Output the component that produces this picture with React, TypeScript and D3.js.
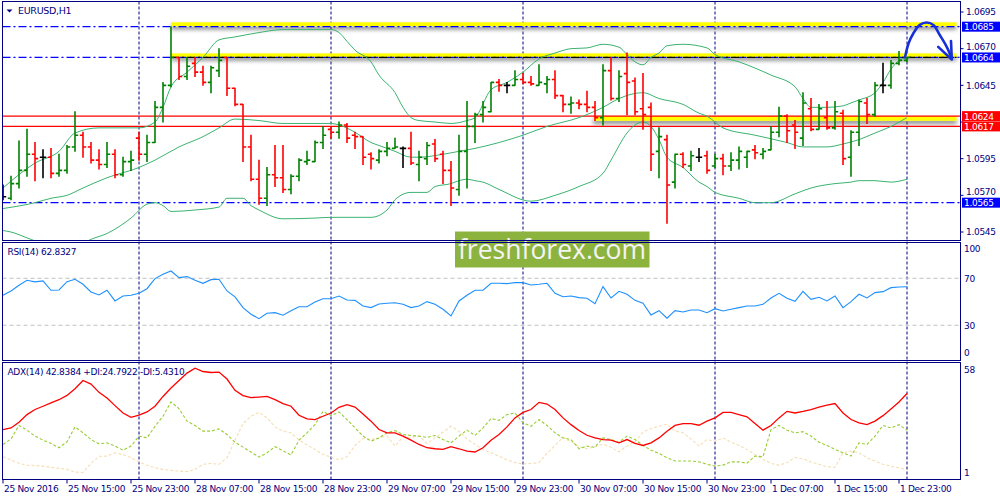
import * as d3 from "d3";

// EURUSD H1, 25 Nov 2016 07:00 .. 2 Dec 2016 00:00 (bar index 0..113)
// [open, high, low, close]
const bars: number[][] = [
  [1.0569, 1.0577, 1.0567, 1.0569], [1.0568, 1.0583, 1.0567, 1.0578], [1.0578, 1.0607, 1.0575, 1.0587],
  [1.0587, 1.0615, 1.0583, 1.0598], [1.0598, 1.0606, 1.058, 1.0595], [1.0596, 1.0601, 1.0582, 1.0596],
  [1.0596, 1.0602, 1.0582, 1.0585], [1.0585, 1.0598, 1.0583, 1.0587], [1.0587, 1.0604, 1.0585, 1.0603],
  [1.0603, 1.0627, 1.06, 1.0611], [1.0611, 1.0613, 1.0596, 1.0603], [1.0603, 1.0606, 1.0592, 1.0594],
  [1.0594, 1.0601, 1.0588, 1.0591], [1.0591, 1.0606, 1.0589, 1.0598], [1.0598, 1.0601, 1.0582, 1.0584],
  [1.0584, 1.0596, 1.0583, 1.0593], [1.0593, 1.06, 1.0587, 1.0594], [1.0609, 1.0613, 1.0594, 1.0598],
  [1.0598, 1.0611, 1.0593, 1.0606], [1.0606, 1.0634, 1.0606, 1.063], [1.063, 1.0647, 1.062, 1.0645],
  [1.0645, 1.0685, 1.0644, 1.0664], [1.0664, 1.0664, 1.0649, 1.0651], [1.0651, 1.0664, 1.0649, 1.0658],
  [1.066, 1.0664, 1.0651, 1.0654], [1.0654, 1.0658, 1.0645, 1.0647], [1.0647, 1.0658, 1.064, 1.0657],
  [1.0655, 1.067, 1.0651, 1.0662], [1.0664, 1.0664, 1.0638, 1.0643], [1.0643, 1.0643, 1.0631, 1.0632],
  [1.0632, 1.0632, 1.0593, 1.0603], [1.0603, 1.0611, 1.058, 1.0581], [1.0581, 1.0594, 1.0564, 1.0568],
  [1.0568, 1.0589, 1.0563, 1.0584], [1.0584, 1.0604, 1.0576, 1.0582], [1.0582, 1.0604, 1.0572, 1.0574],
  [1.0574, 1.0584, 1.0571, 1.0583], [1.0583, 1.0595, 1.058, 1.0594], [1.0593, 1.06, 1.0591, 1.0594],
  [1.0593, 1.0607, 1.0593, 1.0606], [1.0606, 1.0617, 1.0602, 1.0611], [1.0615, 1.0617, 1.0609, 1.0613],
  [1.0613, 1.062, 1.0609, 1.0618], [1.0618, 1.0619, 1.0606, 1.0609], [1.0611, 1.0613, 1.0602, 1.061],
  [1.061, 1.061, 1.0591, 1.0596], [1.0598, 1.0599, 1.0588, 1.0595], [1.0594, 1.0601, 1.0592, 1.06],
  [1.06, 1.0606, 1.0597, 1.0602], [1.0602, 1.0609, 1.0602, 1.0603], [1.0602, 1.0603, 1.0589, 1.0602],
  [1.0602, 1.0613, 1.0591, 1.0592], [1.0591, 1.06, 1.058, 1.0596], [1.0595, 1.0606, 1.0591, 1.0604],
  [1.0605, 1.0608, 1.0593, 1.0595], [1.0598, 1.06, 1.0578, 1.0587], [1.0587, 1.0593, 1.0563, 1.0575],
  [1.0574, 1.0611, 1.057, 1.06], [1.06, 1.0634, 1.0575, 1.0617], [1.0617, 1.0626, 1.0606, 1.0625],
  [1.0625, 1.0634, 1.062, 1.063], [1.0627, 1.0647, 1.0627, 1.0647], [1.0647, 1.0649, 1.0641, 1.0645],
  [1.0645, 1.0647, 1.064, 1.0645], [1.0645, 1.0655, 1.0645, 1.0649], [1.0649, 1.0653, 1.0646, 1.0647],
  [1.0647, 1.0651, 1.0645, 1.0646], [1.0645, 1.0659, 1.0645, 1.0647], [1.0646, 1.0651, 1.064, 1.0649],
  [1.0649, 1.0655, 1.0636, 1.0638], [1.0638, 1.0638, 1.0627, 1.0632], [1.0632, 1.0637, 1.0626, 1.0633],
  [1.0633, 1.0635, 1.0629, 1.0632], [1.0632, 1.0641, 1.0627, 1.063], [1.063, 1.0634, 1.0621, 1.0623],
  [1.0623, 1.0659, 1.0618, 1.0655], [1.0655, 1.0664, 1.0635, 1.0636], [1.0636, 1.0655, 1.0634, 1.0651],
  [1.0653, 1.0667, 1.0625, 1.0647], [1.0648, 1.065, 1.0625, 1.0627], [1.0629, 1.0653, 1.0615, 1.0625],
  [1.063, 1.0633, 1.0587, 1.0598], [1.06, 1.0616, 1.0582, 1.061], [1.0608, 1.0611, 1.0551, 1.0577],
  [1.0579, 1.0598, 1.0575, 1.0598], [1.0598, 1.0599, 1.0589, 1.0591], [1.059, 1.06, 1.0587, 1.0597],
  [1.0596, 1.0602, 1.0593, 1.0596], [1.0597, 1.06, 1.0585, 1.0587], [1.059, 1.0598, 1.0589, 1.0595],
  [1.0595, 1.0598, 1.0584, 1.059], [1.059, 1.0599, 1.0587, 1.0594], [1.0594, 1.0603, 1.0588, 1.06],
  [1.0596, 1.06, 1.0589, 1.06], [1.0601, 1.0604, 1.0595, 1.0599], [1.0598, 1.0602, 1.0595, 1.06],
  [1.0601, 1.0617, 1.0601, 1.0613], [1.0613, 1.063, 1.061, 1.0624], [1.0624, 1.0625, 1.0606, 1.0614],
  [1.0618, 1.0621, 1.0602, 1.0613], [1.0609, 1.064, 1.0604, 1.0633], [1.0629, 1.0636, 1.0614, 1.0615],
  [1.0615, 1.0632, 1.0615, 1.0629], [1.0623, 1.0634, 1.0615, 1.0616], [1.0616, 1.0634, 1.0615, 1.0627],
  [1.0626, 1.0628, 1.0591, 1.0595], [1.0596, 1.0614, 1.0583, 1.0613], [1.0613, 1.0635, 1.0604, 1.0634],
  [1.0633, 1.0636, 1.0619, 1.0625], [1.0625, 1.0647, 1.0624, 1.0645], [1.0645, 1.066, 1.064, 1.0645],
  [1.0645, 1.0662, 1.0643, 1.066], [1.066, 1.0668, 1.0659, 1.0662], [1.0662, 1.0664, 1.0661, 1.0664],
];

// Bollinger bands (20), read as [bar, price] vertices
const bbUpper = [
  [0, 1.0575], [4, 1.0592], [7, 1.06], [9, 1.06125], [12, 1.0616], [17, 1.0616], [19, 1.062], [20, 1.063],
  [21, 1.0644], [23, 1.0654], [25, 1.0664], [27, 1.0676], [29, 1.0678], [32, 1.0681], [35, 1.0683], [41, 1.0683],
  [42, 1.0681], [43, 1.0675], [44, 1.0669], [46, 1.0661], [47, 1.0652], [49, 1.064], [50, 1.063], [51, 1.0623],
  [52, 1.0621], [54, 1.062], [56, 1.0619], [58, 1.0621], [59, 1.0623], [61, 1.0642], [63, 1.0647], [65, 1.0654],
  [67, 1.0663], [69, 1.0667], [71, 1.067], [73, 1.06705], [75, 1.0673], [77, 1.0671], [78, 1.0666], [79, 1.0661],
  [80, 1.0659], [81, 1.0664], [82, 1.0667], [83, 1.0672], [85, 1.0673], [88, 1.06705], [89, 1.0666], [92, 1.0661],
  [96, 1.0652], [99, 1.0644], [100, 1.0636], [101, 1.063], [103, 1.063], [105, 1.0631], [106, 1.0633], [107, 1.0635],
  [109, 1.064], [110, 1.0647], [111, 1.0656], [112, 1.0662], [113, 1.0664],
];
const bbMiddle = [
  [0, 1.0561], [4, 1.0565], [6, 1.0568], [8, 1.057], [10, 1.0575], [13, 1.0582], [17, 1.0589], [19, 1.0594],
  [22, 1.0603], [25, 1.061], [27, 1.0616], [29, 1.0622], [32, 1.0621], [35, 1.0619], [41, 1.0619], [42, 1.0618],
  [44, 1.0613], [46, 1.0606], [47, 1.0604], [49, 1.06], [51, 1.0596], [52, 1.0596], [55, 1.0598], [57, 1.06],
  [59, 1.0602], [62, 1.0606], [65, 1.0611], [68, 1.0617], [72, 1.0623], [75, 1.063], [77, 1.0636], [80, 1.064],
  [82, 1.0636], [85, 1.0632], [87, 1.0626], [88, 1.0624], [90, 1.0616], [94, 1.0611], [98, 1.0606], [100, 1.0603],
  [103, 1.0603], [105, 1.0605], [107, 1.0608], [109, 1.06125], [111, 1.0617], [113, 1.0623],
];
const bbLower = [
  [0, 1.0546], [1, 1.0545], [3, 1.0541], [4, 1.0539], [6, 1.05375], [8, 1.0536], [10, 1.05375], [11, 1.054],
  [13, 1.0544], [16, 1.05545], [18, 1.0564], [19, 1.0565], [20, 1.0563], [21, 1.0559], [24, 1.056], [27, 1.0562],
  [28, 1.0568], [30, 1.0568], [31, 1.0563], [32, 1.056], [35, 1.0554], [39, 1.05545], [41, 1.0555], [46, 1.0555],
  [48, 1.056], [49, 1.0567], [51, 1.0572], [53, 1.0572], [54, 1.0576], [56, 1.0578], [57, 1.058], [58, 1.0581],
  [59, 1.058], [60, 1.0579], [62, 1.0574], [66, 1.0566], [69, 1.057], [72, 1.0576], [75, 1.0585], [76, 1.0594],
  [78, 1.06125], [79, 1.0618], [80, 1.062], [81, 1.0617], [82, 1.0608], [83, 1.0596], [85, 1.0589], [87, 1.0579],
  [88, 1.0576], [89, 1.0572], [92, 1.0568], [94, 1.0565], [96, 1.0565], [99, 1.0571], [101, 1.0575], [104, 1.0578],
  [106, 1.0579], [107, 1.058], [109, 1.058], [111, 1.0579], [113, 1.0581],
];

const rsi = [
  55.5, 59.2, 64.0, 68.3, 66.9, 67.7, 59.8, 60.0, 67.1, 69.1,
  64.9, 58.3, 55.8, 59.8, 50.7, 54.9, 55.5, 57.2, 61.1, 69.7,
  73.4, 76.2, 70.5, 71.4, 68.3, 65.7, 68.8, 69.1, 59.2, 54.1,
  45.0, 39.4, 35.6, 40.2, 40.7, 38.5, 42.4, 45.8, 45.8, 49.8,
  52.6, 52.6, 54.9, 51.5, 51.2, 46.4, 45.0, 48.1, 48.7, 49.2,
  47.8, 45.0, 46.4, 50.1, 47.8, 43.6, 37.9, 50.7, 55.5, 59.8,
  59.8, 65.7, 65.8, 65.4, 66.3, 66.3, 64.3, 64.9, 65.7, 57.2,
  54.3, 54.9, 53.5, 53.0, 48.4, 62.9, 53.2, 58.9, 56.4, 51.2,
  48.7, 38.8, 42.4, 36.0, 42.4, 41.3, 43.0, 43.0, 40.7, 44.1,
  42.2, 43.6, 45.0, 46.4, 46.4, 47.8, 53.2, 57.2, 53.0, 50.4,
  58.9, 52.1, 53.8, 50.7, 54.9, 45.0, 50.1, 56.4, 53.2, 57.8,
  58.6, 62.0, 62.6, 62.83,
];

const adx = [
  25.2, 26.0, 28.8, 32.5, 35.0, 36.6, 38.2, 39.8, 41.9, 45.2,
  49.2, 47.4, 43.4, 40.6, 36.9, 33.3, 31.2, 32.3, 33.8, 36.6,
  41.4, 45.5, 49.2, 52.8, 55.2, 53.6, 53.1, 53.3, 49.9, 44.4,
  41.8, 40.8, 41.1, 41.4, 39.8, 37.9, 36.6, 32.2, 30.4, 30.1,
  31.7, 33.3, 36.1, 37.4, 36.2, 32.8, 29.3, 25.2, 23.6, 23.6,
  22.0, 20.0, 17.9, 16.3, 15.8, 15.5, 16.8, 15.8, 14.6, 14.2,
  16.3, 20.0, 22.8, 26.5, 30.9, 33.6, 35.0, 38.5, 37.7, 35.0,
  30.9, 27.6, 24.7, 22.4, 21.1, 20.3, 20.0, 18.7, 20.3, 18.4,
  17.4, 18.7, 21.1, 24.4, 27.2, 28.1, 28.1, 27.3, 29.3, 30.9,
  33.6, 33.6, 32.5, 31.4, 28.1, 24.9, 27.2, 30.9, 34.1, 33.3,
  34.1, 35.0, 36.2, 37.1, 37.9, 33.3, 30.1, 28.5, 27.6, 29.3,
  32.0, 35.3, 38.7, 42.84,
];
const plusDi = [
  17.9, 20.6, 27.2, 24.9, 22.0, 20.0, 18.4, 16.3, 19.2, 26.5,
  23.6, 20.3, 18.2, 18.7, 17.1, 15.1, 17.1, 22.0, 21.1, 26.8,
  31.7, 38.7, 35.4, 29.3, 27.2, 24.4, 24.4, 25.5, 22.8, 19.0,
  16.6, 14.2, 11.7, 13.8, 16.8, 14.8, 12.8, 20.0, 23.6, 27.6,
  34.1, 32.0, 33.8, 30.1, 26.0, 22.0, 19.5, 21.1, 23.6, 24.7,
  22.8, 22.3, 22.0, 21.3, 22.3, 20.3, 18.7, 22.0, 24.9, 22.3,
  26.0, 30.6, 29.7, 32.5, 33.3, 28.5, 26.8, 30.1, 27.2, 23.6,
  21.1, 20.3, 15.8, 17.1, 16.5, 21.1, 20.3, 19.0, 22.0, 20.3,
  17.4, 15.1, 13.5, 11.4, 9.8, 9.8, 9.8, 9.4, 8.2, 7.3,
  7.8, 9.4, 9.4, 8.7, 12.2, 11.9, 25.2, 27.2, 24.9, 23.6,
  24.2, 22.0, 19.0, 17.4, 15.5, 13.8, 12.2, 18.7, 17.9, 22.0,
  27.2, 26.0, 27.6, 24.79,
];
const minusDi = [
  11.9, 10.3, 8.7, 7.7, 7.6, 7.3, 6.7, 6.2, 5.7, 4.4,
  4.2, 8.7, 12.1, 12.2, 13.8, 13.0, 11.4, 9.3, 7.7, 6.5,
  5.7, 5.2, 4.9, 4.6, 5.7, 8.2, 8.6, 8.2, 11.4, 20.0,
  28.1, 31.7, 33.6, 30.9, 26.5, 24.4, 23.6, 20.0, 17.6, 15.5,
  13.0, 11.7, 10.4, 11.9, 17.4, 20.8, 20.3, 21.1, 22.0, 17.1,
  21.6, 21.3, 22.0, 18.4, 21.1, 23.9, 26.8, 24.4, 20.6, 17.9,
  15.5, 13.8, 12.2, 10.3, 9.0, 8.4, 8.6, 9.0, 13.5, 17.4,
  21.3, 19.2, 16.8, 15.8, 16.8, 18.0, 16.5, 14.3, 17.1, 19.2,
  23.9, 25.7, 26.8, 27.8, 24.4, 23.6, 20.6, 17.1, 20.3, 19.5,
  21.1, 19.0, 17.4, 15.5, 13.0, 10.6, 8.7, 7.7, 9.0, 11.5,
  10.9, 9.3, 8.2, 7.0, 6.7, 13.8, 14.6, 13.8, 11.4, 9.8,
  8.2, 7.3, 6.5, 5.43,
];

const timeLabels = [
  "25 Nov 2016", "25 Nov 15:00", "25 Nov 23:00", "28 Nov 07:00", "28 Nov 15:00", "28 Nov 23:00",
  "29 Nov 07:00", "29 Nov 15:00", "29 Nov 23:00", "30 Nov 07:00", "30 Nov 15:00", "30 Nov 23:00",
  "1 Dec 07:00", "1 Dec 15:00", "1 Dec 23:00",
];
const labelBars = [0, 8, 16, 24, 32, 40, 48, 56, 64, 72, 80, 88, 96, 104, 112];
const daySeparators = [17, 41, 65, 89, 113];

// 1.0620 sits behind the red level boxes, so it only gets a tick
const priceTicks = [1.0695, 1.067, 1.0645, 1.062, 1.0595, 1.057, 1.0545];
const hiddenTicks = [1.062];
const levels = [
  { price: 1.0685, color: "#0000ff", dashed: true },
  { price: 1.0664, color: "#0000ff", dashed: true },
  { price: 1.0624, color: "#ff0000", dashed: false },
  { price: 1.0617, color: "#ff0000", dashed: false },
  { price: 1.0565, color: "#0000ff", dashed: true },
];
// highlighted zones: [fromBar, toBar, lowPrice, highPrice]
const zones = [
  [21, 119.2, 1.06852, 1.0688],
  [21, 119.2, 1.0664, 1.06668],
  [73.75, 119.2, 1.06208, 1.0624],
];
// hand drawn arrow [bar, price]
const arrowPath = [
  [112.75, 1.0664], [113.2, 1.06737], [113.8, 1.06805], [114.6, 1.06862], [115.45, 1.06878],
  [116.3, 1.06862], [117.1, 1.06793], [117.95, 1.06714], [118.6, 1.06634],
];
const arrowHead = [[118.5, 1.06752], [118.6, 1.06626], [116.9, 1.06712]];

const NAVY = "#000080";
const FONT = "DejaVu Sans";
const L = 2.5, R = 960.5;
const mainTop = 1.5, mainBot = 240.5;
const rsiTop = 242.5, rsiBot = 360.5;
const adxTop = 362.5, adxBot = 479.5;

const x = d3.scaleLinear().domain([0, 113]).range([3, 907]);
const y = d3.scaleLinear().domain([1.0545, 1.0695]).range([232, 12]);
const yRsi = d3.scaleLinear().domain([0, 100]).range([360.5, 243]);
const yAdx = d3.scaleLinear().domain([1, 58]).range([479, 362.5]);

const bandLine = d3.line<number[]>().x((d) => x(d[0])).y((d) => y(d[1])).curve(d3.curveMonotoneX);
const rsiLine = d3.line<number>().x((_, i) => x(i)).y((d) => yRsi(d));
const adxLine = d3.line<number>().x((_, i) => x(i)).y((d) => yAdx(d));
const arrowLine = d3.line<number[]>().x((d) => x(d[0])).y((d) => y(d[1])).curve(d3.curveCatmullRom);
const headLine = d3.line<number[]>().x((d) => x(d[0])).y((d) => y(d[1]));

// push an axis label away from a level box that would cover it
const tickLabelY = (p: number) => {
  const ty = y(p);
  for (const lv of levels) {
    const d = ty - y(lv.price);
    if (Math.abs(d) < 11) return ty + Math.sign(d || -1) * (11 - Math.abs(d));
  }
  return ty;
};

const txt = { fontFamily: FONT, fontSize: 9, fill: NAVY, letterSpacing: -0.3 } as const;

export default function App() {
  return (
    <svg width={1000} height={500} style={{ position: "absolute", left: 0, top: 0, background: "#fff" }}>
      <defs>
        <clipPath id="mainClip">
          <rect x={L} y={mainTop} width={R - L} height={mainBot - mainTop} />
        </clipPath>
        <filter id="shadow" x="-5%" y="-150%" width="110%" height="500%">
          <feGaussianBlur in="SourceAlpha" stdDeviation="2" />
          <feOffset dy="3" result="blur" />
          <feFlood floodColor="#5a5a5a" floodOpacity="0.75" />
          <feComposite in2="blur" operator="in" />
          <feMerge>
            <feMergeNode />
            <feMergeNode in="SourceGraphic" />
          </feMerge>
        </filter>
      </defs>

      {/* day separators across all windows */}
      {daySeparators.map((b) => (
        <line key={b} x1={x(b)} x2={x(b)} y1={mainTop} y2={adxBot} stroke={NAVY} strokeDasharray="3,2" strokeWidth={1} />
      ))}

      <g clipPath="url(#mainClip)">
        {zones.map((z, i) => (
          <rect key={i} x={x(z[0])} width={x(z[1]) - x(z[0])} y={y(z[3])} height={y(z[2]) - y(z[3])}
            fill="#ffff00" filter="url(#shadow)" />
        ))}
        {levels.map((lv) => (
          <line key={lv.price} x1={L} x2={R} y1={y(lv.price)} y2={y(lv.price)} stroke={lv.color}
            strokeWidth={lv.dashed ? 1.2 : 1.3} strokeDasharray={lv.dashed ? "8,3,2,3" : undefined} />
        ))}
        <line x1={x(zones[1][0])} x2={x(zones[1][1])} y1={y(1.0664)} y2={y(1.0664)} stroke="#000"
          strokeWidth={1.2} strokeDasharray="8,3,2,3" />

        {[bbUpper, bbMiddle, bbLower].map((b, i) => (
          <path key={i} d={bandLine(b as number[][]) || ""} fill="none" stroke="#3cb371" strokeWidth={1} />
        ))}

        {bars.map(([o, h, l, c], i) => {
          const col = c > o ? "#008000" : c < o ? "#ff0000" : "#000";
          const cx = x(i);
          return (
            <g key={i} stroke={col} strokeWidth={1.6}>
              <line x1={cx} x2={cx} y1={y(h) - 0.5} y2={y(l) + 0.5} />
              <line x1={cx - 3.2} x2={cx} y1={y(o)} y2={y(o)} />
              <line x1={cx} x2={cx + 3.2} y1={y(c)} y2={y(c)} />
            </g>
          );
        })}

        <path d={arrowLine(arrowPath) || ""} fill="none" stroke="#1830d8" strokeWidth={2.6} strokeLinecap="round" />
        <path d={headLine(arrowHead) || ""} fill="none" stroke="#1830d8" strokeWidth={2.6} strokeLinecap="round"
          strokeLinejoin="round" />
      </g>

      {/* RSI window */}
      {[70, 30].map((v) => (
        <line key={v} x1={L} x2={R} y1={yRsi(v)} y2={yRsi(v)} stroke="#c0c0c0" strokeDasharray="4,3" />
      ))}
      <path d={rsiLine(rsi) || ""} fill="none" stroke="#1e90ff" strokeWidth={1.1} />

      {/* ADX window */}
      <path d={adxLine(minusDi) || ""} fill="none" stroke="#f5deb3" strokeWidth={1.1} strokeDasharray="3,2" />
      <path d={adxLine(plusDi) || ""} fill="none" stroke="#9acd32" strokeWidth={1.1} strokeDasharray="3,2" />
      <path d={adxLine(adx) || ""} fill="none" stroke="#ff0000" strokeWidth={1.3} />

      {/* watermark */}
      <rect x={455} y={231.5} width={194.5} height={36} fill="#8db33f" />
      <text x={552} y={259} textAnchor="middle" fontFamily="Open Sans" fontSize={26.5} fill="#f4f4f4">
        freshforex.com
      </text>

      {/* window frames */}
      {[[mainTop, mainBot], [rsiTop, rsiBot], [adxTop, adxBot]].map(([t, b], i) => (
        <rect key={i} x={L} y={t} width={R - L} height={b - t} fill="none" stroke={NAVY} strokeWidth={1} />
      ))}

      {/* price axis */}
      {priceTicks.map((p) => (
        <g key={p}>
          <line x1={R} x2={R + 3} y1={y(p)} y2={y(p)} stroke={NAVY} />
          {!hiddenTicks.includes(p) && (
            <text {...txt} x={966} y={tickLabelY(p) + 3.3}>{p.toFixed(4)}</text>
          )}
        </g>
      ))}
      {levels.map((lv) => (
        <g key={lv.price}>
          <rect x={962} y={y(lv.price) - 5} width={38} height={10} fill={lv.color} />
          <text {...txt} fill="#fff" x={964} y={y(lv.price) + 3.4}>{lv.price.toFixed(4)}</text>
        </g>
      ))}

      {/* RSI axis */}
      {[[100, 249], [70, yRsi(70)], [30, yRsi(30)], [0, 353]].map(([v, ty]) => (
        <text key={v} {...txt} x={964} y={ty + 3.3}>{v}</text>
      ))}
      {[[58, 369.5], [1, 472.5]].map(([v, ty]) => (
        <text key={v} {...txt} x={964} y={ty + 3.3}>{v}</text>
      ))}

      {/* time axis */}
      {labelBars.map((b, i) => (
        <g key={b}>
          <line x1={x(b)} x2={x(b)} y1={adxBot} y2={adxBot + 4} stroke={NAVY} />
          <text {...txt} x={x(b) + 1} y={492}>{timeLabels[i]}</text>
        </g>
      ))}

      {/* window captions */}
      <path d="M6.5,9.5 L12.5,9.5 L9.5,12.5 Z" fill={NAVY} />
      <text {...txt} fontSize={9.5} x={18} y={14}>EURUSD,H1</text>
      <text {...txt} x={7.5} y={255}>RSI(14) 62.8327</text>
      <text {...txt} x={7.5} y={375}>ADX(14) 42.8384 +DI:24.7922 -DI:5.4310</text>
    </svg>
  );
}
